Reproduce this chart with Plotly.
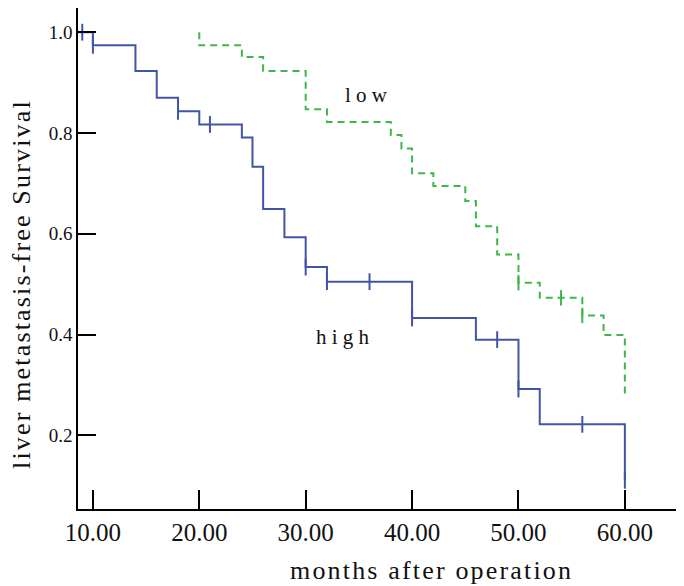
import plotly.graph_objects as go

# ---- data ----
high_times = [0, 10, 14, 16, 18, 20, 24, 25, 26, 28, 30, 32, 40, 46, 50, 52, 60]
high_surv = [1.0, 0.974, 0.923, 0.870, 0.843, 0.817, 0.791, 0.733, 0.649, 0.593,
             0.534, 0.505, 0.433, 0.390, 0.292, 0.222, 0.111]
high_cens_t = [9, 10, 18, 21, 30, 32, 36, 40, 48, 50, 56, 60]
high_cens_s = [1.0, 0.974, 0.843, 0.817, 0.534, 0.505, 0.505, 0.433, 0.390, 0.292, 0.222, 0.111]

low_times = [20, 20, 24, 26, 30, 32, 38, 39, 40, 42, 45, 46, 48, 50, 52, 56, 58, 60]
low_surv = [1.0, 0.974, 0.951, 0.923, 0.847, 0.822, 0.796, 0.769, 0.720, 0.695,
            0.665, 0.615, 0.559, 0.503, 0.473, 0.438, 0.399, 0.278]
low_cens_t = [50, 54, 56]
low_cens_s = [0.503, 0.473, 0.438]

x_ticks = [10, 20, 30, 40, 50, 60]
x_ticklabels = ["10.00", "20.00", "30.00", "40.00", "50.00", "60.00"]
y_ticks = [0.2, 0.4, 0.6, 0.8, 1.0]
y_ticklabels = ["0.2", "0.4", "0.6", "0.8", "1.0"]

BLUE = "#4055a5"
GREEN = "#3cb84a"
FONT = "Liberation Serif"
HS = "\u200a"  # hair space for the loose letter spacing of the original


def spaced(s):
    return HS.join(s)


# page offset of the figure (browser body margin)
OFF = 8
L, T, PW, PH = 78 - OFF, 8 - OFF, 599, 501

fig = go.Figure()
fig.add_trace(go.Scatter(x=low_times, y=low_surv, mode="lines", line_shape="hv",
                         line=dict(color=GREEN, width=2, dash="7px,5px"), showlegend=False))
fig.add_trace(go.Scatter(x=low_cens_t, y=low_cens_s, mode="markers",
                         marker=dict(symbol="line-ns", size=11, line=dict(color=GREEN, width=2)),
                         showlegend=False))
fig.add_trace(go.Scatter(x=high_times, y=high_surv, mode="lines", line_shape="hv",
                         line=dict(color=BLUE, width=2), showlegend=False))
fig.add_trace(go.Scatter(x=high_cens_t, y=high_cens_s, mode="markers",
                         marker=dict(symbol="line-ns", size=12, line=dict(color=BLUE, width=2)),
                         showlegend=False))

fig.add_annotation(x=35.7, y=0.875, text="l o w", showarrow=False,
                   font=dict(family=FONT, size=21, color="#111"),
                   xanchor="center", yanchor="middle")
fig.add_annotation(x=33.5, y=0.395, text="h i g h", showarrow=False,
                   font=dict(family=FONT, size=21, color="#111"),
                   xanchor="center", yanchor="middle")

# axis titles placed as in the original (page pixel coords -> paper coords)
fig.add_annotation(xref="paper", yref="paper", x=(430 - 78) / PW, y=(509 - 570) / PH,
                   text=spaced("months after operation"), showarrow=False,
                   font=dict(family=FONT, size=26, color="#111"),
                   xanchor="center", yanchor="middle")
fig.add_annotation(xref="paper", yref="paper", x=(21 - 78) / PW, y=(509 - 285) / PH,
                   text=spaced("liver metastasis-free Survival"), showarrow=False,
                   textangle=-90,
                   font=dict(family=FONT, size=26, color="#111"),
                   xanchor="center", yanchor="middle")

fig.update_layout(
    width=L + PW + 7, height=T + PH + 77,
    margin=dict(l=L, r=7, t=T, b=77),
    paper_bgcolor="white", plot_bgcolor="white",
    font=dict(family=FONT, color="#111"),
)
fig.update_xaxes(range=[8.6, 64.9], showgrid=False, zeroline=False, automargin=False,
                 showline=True, linecolor="black", linewidth=1.5,
                 ticks="inside", ticklen=19, tickwidth=2, tickcolor="black",
                 tickvals=x_ticks, ticktext=x_ticklabels,
                 tickfont=dict(family=FONT, size=25))
fig.update_yaxes(range=[0.054, 1.048], showgrid=False, zeroline=False, automargin=False,
                 showline=True, linecolor="black", linewidth=1.5,
                 ticks="inside", ticklen=18, tickwidth=2, tickcolor="black",
                 tickvals=y_ticks, ticktext=y_ticklabels,
                 tickfont=dict(family=FONT, size=19))

fig.write_html("out.html")
